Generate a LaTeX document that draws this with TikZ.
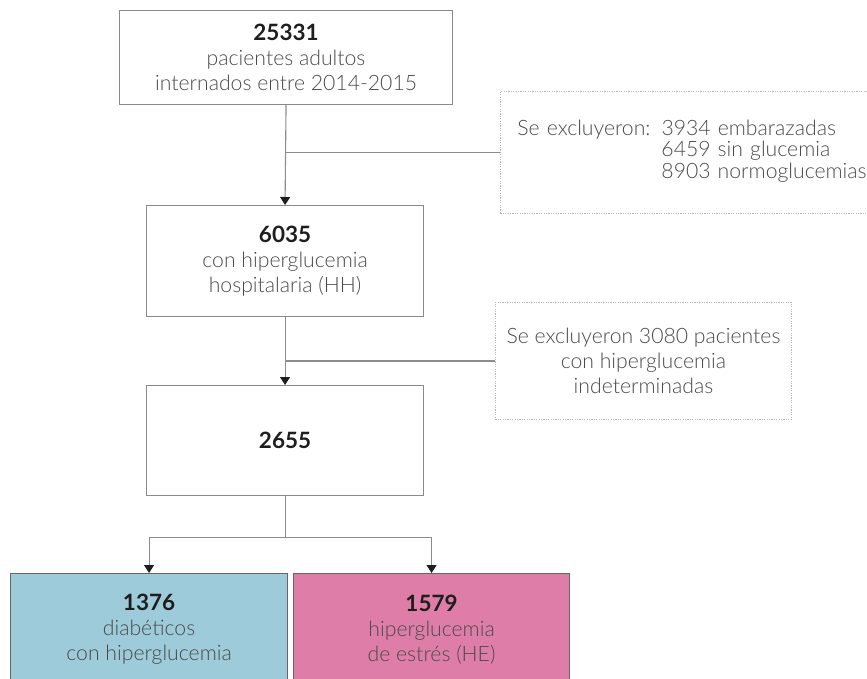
\documentclass[tikz,border=0pt]{standalone}
\usepackage{fontspec}
\setmainfont{Lato}[UprightFont={Lato Light},BoldFont={Lato Bold}]
\usetikzlibrary{arrows.meta}
\definecolor{txt}{HTML}{4A4A4A}
\definecolor{num}{HTML}{1E1E1E}
\definecolor{frame}{HTML}{8A8A8A}
\definecolor{bluefill}{HTML}{9DCBDA}
\definecolor{pinkfill}{HTML}{DE7EA8}
\definecolor{dotc}{HTML}{B8B8B8}
\definecolor{linec}{HTML}{8C8C8C}
\tikzset{
  x=1pt,y=1pt,
  every node/.style={font=\fontsize{21.2}{25}\selectfont, text=txt},
  mainbox/.style={draw=frame, line width=1.1pt, align=center, inner sep=0pt},
  exbox/.style={draw=dotc, line width=0.9pt, dash pattern=on 1.2pt off 1.2pt, inner sep=0pt},
  conn/.style={draw=linec, line width=1.1pt},
  arr/.style={conn, -{Triangle[width=10pt,length=8pt,fill=num,color=num]}},
}
\newcommand{\numb}[1]{{\fontsize{22.5}{25}\selectfont\bfseries\color{num}#1}}
\begin{document}
\begin{tikzpicture}
\useasboundingbox (0,0) rectangle (867,-679);
\clip (0,0) rectangle (867,-679);
% main boxes
\node[mainbox, minimum width=333, minimum height=94, anchor=north west] (b1) at (119,-10)
  {\numb{25331}\\pacientes adultos\\internados entre 2014-2015};
\node[mainbox, minimum width=277, minimum height=111, anchor=north west] (b2) at (146,-205)
  {\numb{6035}\\con hiperglucemia\\hospitalaria (HH)};
\node[mainbox, minimum width=277, minimum height=110, anchor=north west] (b3) at (146,-385)
  {\numb{2655}};
\node[mainbox, fill=bluefill, draw=gray!80!black, minimum width=277, minimum height=112, anchor=north west] (b4) at (10,-573)
  {\numb{1376}\\diabéticos\\con hiperglucemia};
\node[mainbox, fill=pinkfill, draw=gray!80!black, minimum width=276, minimum height=112, anchor=north west] (b5) at (293,-573)
  {\numb{1579}\\hiperglucemia\\de estrés (HE)};
% exclusion boxes
\node[exbox, minimum width=390, minimum height=122, anchor=north west, align=left, inner xsep=17pt, text width=356pt] (ex1) at (500,-91)
  {\fontsize{21.2}{21.5}\selectfont\begin{tabular}{@{}l@{\hspace{11pt}}l@{}}Se excluyeron: & 3934 embarazadas\\ & 6459 sin glucemia\\ & 8903 normoglucemias\end{tabular}};
\node[exbox, minimum width=296, minimum height=117, anchor=north west, align=center] (ex2) at (495,-302)
  {Se excluyeron 3080 pacientes\\con hiperglucemia\\indeterminadas};
% connectors
\draw[arr] (b1.south) -- (b2.north);
\coordinate (j1) at (b1.south |- ex1.west);
\draw[conn] (j1) -- (ex1.west);
\draw[arr] (b2.south) -- (b3.north);
\coordinate (j2) at (b2.south |- ex2.west);
\draw[conn] (j2) -- (ex2.west);
\coordinate (split) at ([yshift=-41pt]b3.south);
\draw[conn] (b3.south) -- (split);
\draw[arr] (split) -| (b4.north);
\draw[arr] (split) -| (b5.north);
\end{tikzpicture}
\end{document}
